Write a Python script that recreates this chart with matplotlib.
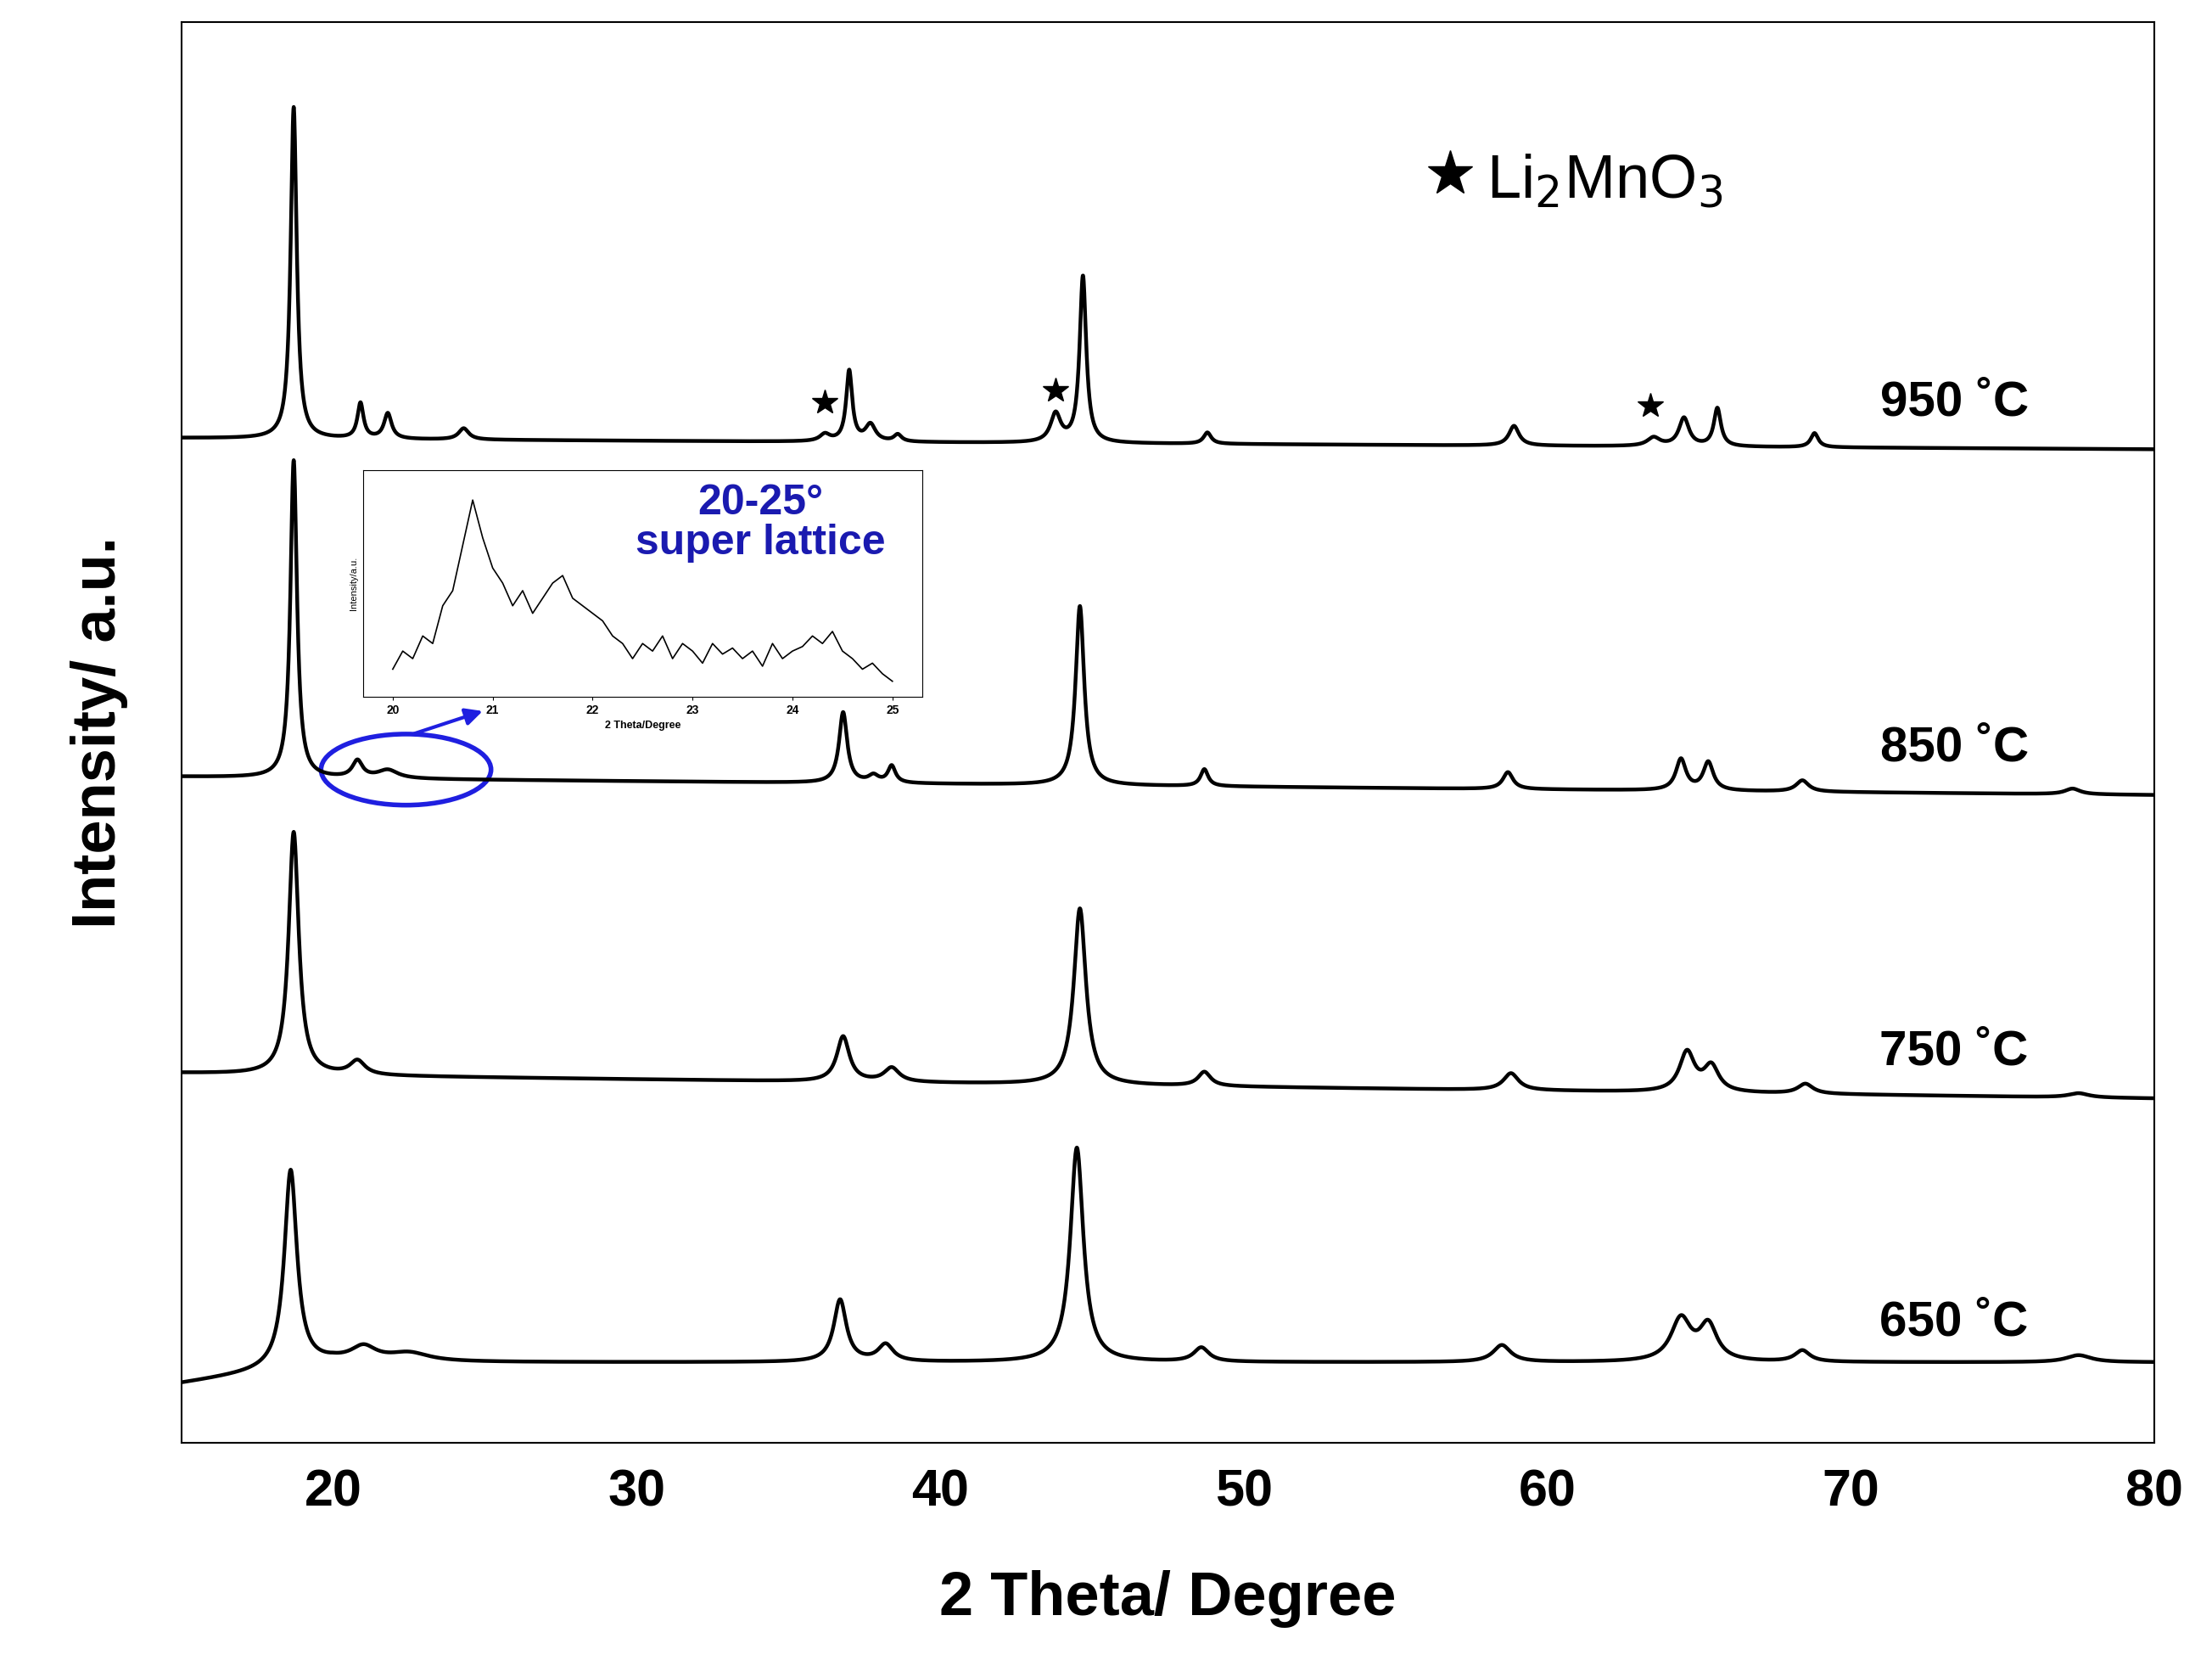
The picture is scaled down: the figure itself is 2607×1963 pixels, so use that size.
import numpy as np
import matplotlib
matplotlib.use("Agg")
import matplotlib.pyplot as plt
from matplotlib.patches import Ellipse

plt.rcParams['font.family'] = ['Liberation Sans', 'DejaVu Sans']

labels = ["950 ˚C", "850 ˚C", "750 ˚C", "650 ˚C"]
baseline_left = [310, 550, 760, 980]
baseline_right = [318, 563, 778, 965]
peaks = {
    "950 ˚C": [(18.7, 235, 0.12), (20.9, 25, 0.12), (21.8, 18, 0.15), (24.3, 8, 0.2), (36.2, 5, 0.2),
               (37.0, 50, 0.12), (37.7, 12, 0.2), (38.6, 5, 0.15), (43.8, 20, 0.2), (44.7, 118, 0.13),
               (48.8, 8, 0.15), (58.9, 14, 0.2), (63.5, 6, 0.25), (64.5, 20, 0.2), (65.6, 27, 0.14),
               (68.8, 10, 0.15)],
    "850 ˚C": [(18.7, 225, 0.13), (20.8, 12, 0.2), (21.8, 6, 0.4), (36.8, 50, 0.16), (37.8, 5, 0.2),
               (38.4, 12, 0.15), (44.6, 127, 0.17), (48.7, 12, 0.15), (58.7, 12, 0.2), (64.4, 22, 0.2),
               (65.3, 20, 0.2), (68.4, 8, 0.25), (77.3, 4, 0.3)],
    "750 ˚C": [(18.7, 172, 0.2), (20.8, 10, 0.3), (36.8, 32, 0.25), (38.4, 10, 0.3), (44.6, 125, 0.24),
               (48.7, 10, 0.25), (58.8, 12, 0.3), (64.6, 28, 0.3), (65.4, 18, 0.3), (68.5, 7, 0.3),
               (77.5, 3, 0.4)],
    "650 ˚C": [(18.6, 140, 0.25), (21.0, 10, 0.5), (22.5, 6, 0.8), (36.7, 44, 0.25), (38.2, 12, 0.3),
               (44.5, 152, 0.26), (48.6, 10, 0.3), (58.5, 12, 0.35), (64.4, 30, 0.4), (65.3, 25, 0.35),
               (68.4, 8, 0.3), (77.5, 5, 0.5)],
}
label_y = [285, 530, 745, 937]
stars_x = [36.2, 43.8, 63.4]
stars_y = [285, 276, 287]

inset_x = [20.0, 20.1, 20.2, 20.3, 20.4, 20.5, 20.6, 20.7, 20.8, 20.9, 21.0, 21.1, 21.2, 21.3, 21.4, 21.5,
           21.6, 21.7, 21.8, 21.9, 22.0, 22.1, 22.2, 22.3, 22.4, 22.5, 22.6, 22.7, 22.8, 22.9, 23.0, 23.1,
           23.2, 23.3, 23.4, 23.5, 23.6, 23.7, 23.8, 23.9, 24.0, 24.1, 24.2, 24.3, 24.4, 24.5, 24.6, 24.7,
           24.8, 24.9, 25.0]
inset_y = [462, 450, 455, 440, 445, 420, 410, 380, 350, 375, 395, 405, 420, 410, 425, 415, 405, 400, 415,
           420, 425, 430, 440, 445, 455, 445, 450, 440, 455, 445, 450, 458, 445, 452, 448, 455, 450, 460,
           445, 455, 450, 447, 440, 445, 437, 450, 455, 462, 458, 465, 470]

H = 1007.0
def tofrac(p):
    return (1022 - p) / H

fig = plt.figure(figsize=(26.07, 19.63), dpi=100)
ax = fig.add_axes([0.082, 0.134, 0.892, 0.853])
x = np.linspace(15, 80, 6500)
for lab, bl, br in zip(labels, baseline_left, baseline_right):
    base = np.interp(x, [15, 20, 80], [bl, bl + (br - bl) * 0.1 if lab != "650 ˚C" else br, br])
    y = base.copy()
    for c, h, w in peaks[lab]:
        y -= h / (1 + ((x - c) / w) ** 2)
    ax.plot(x, tofrac(y), color="black", lw=3.2)
for lab, ly in zip(labels, label_y):
    ax.text(73.4, tofrac(ly), lab, fontsize=42, fontweight="bold", va="center", ha="center")
ax.plot(stars_x, [tofrac(v) for v in stars_y], "*", color="black", ms=22)
ax.plot([56.8], [tofrac(123)], "*", color="black", ms=40)
ax.text(58.0, tofrac(128), "Li$_2$MnO$_3$", fontsize=52, va="center")

ax.set_xlim(15, 80)
ax.set_ylim(0, 1)
ax.set_yticks([])
ax.set_xticks([20, 30, 40, 50, 60, 70, 80])
ax.tick_params(axis="x", labelsize=44, length=0, pad=22)
for t in ax.get_xticklabels():
    t.set_fontweight("bold")
for s in ax.spines.values():
    s.set_linewidth(1.5)
ax.set_xlabel("2 Theta/ Degree", fontsize=52, fontweight="bold", labelpad=45)
ax.set_ylabel("Intensity/ a.u.", fontsize=52, fontweight="bold", labelpad=45)

ax.add_patch(Ellipse((22.4, tofrac(545)), 5.6, 0.05, fill=False, ec="#1f1fe0", lw=4))
ax.annotate("", xy=(25.0, tofrac(503)), xytext=(22.6, tofrac(520)),
            arrowprops=dict(arrowstyle="-|>", color="#1f1fe0", lw=3, mutation_scale=30))

ins = fig.add_axes([0.164, 0.582, 0.253, 0.136])
ins.plot(inset_x, [-v for v in inset_y], color="black", lw=1.2)
ins.set_xlim(19.7, 25.3)
ins.set_ylim(-480, -330)
ins.set_yticks([])
ins.set_xticks([20, 21, 22, 23, 24, 25])
ins.tick_params(labelsize=10, length=3)
for t in ins.get_xticklabels():
    t.set_fontweight("bold")
ins.set_xlabel("2 Theta/Degree", fontsize=9, fontweight="bold")
ins.set_ylabel("Intensity/a.u.", fontsize=8)
ins.text(0.71, 0.94, "20-25°\nsuper lattice", transform=ins.transAxes, color="#1a1ab0",
         fontsize=36, fontweight="bold", ha="center", va="top", linespacing=1.05)

fig.savefig("out.png", dpi=100)
